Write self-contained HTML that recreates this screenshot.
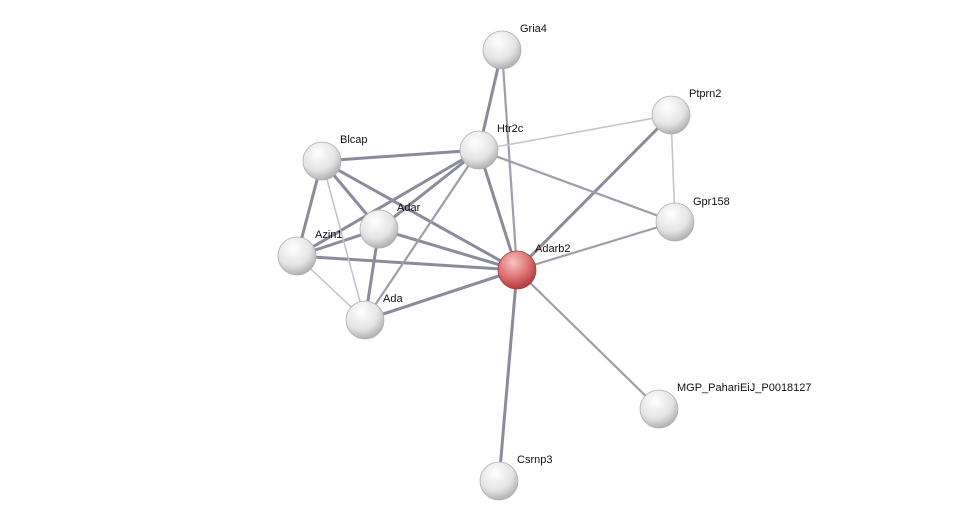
<!DOCTYPE html>
<html><head><meta charset="utf-8"><style>html,body{margin:0;padding:0;background:#fff}svg{display:block}</style></head>
<body>
<svg width="976" height="526" viewBox="0 0 976 526" xmlns="http://www.w3.org/2000/svg">
<defs>
<radialGradient id="g" cx="0.4" cy="0.3" r="0.75">
<stop offset="0" stop-color="#ffffff"/><stop offset="0.6" stop-color="#e4e4e4"/><stop offset="1" stop-color="#a8a8a8"/></radialGradient>
<radialGradient id="r" cx="0.4" cy="0.3" r="0.75">
<stop offset="0" stop-color="#f7c4c4"/><stop offset="0.55" stop-color="#de7070"/><stop offset="1" stop-color="#a83535"/></radialGradient>
</defs>
<g stroke-linecap="round">
<g stroke="#8a8c9c" stroke-width="3">
<line x1="502" y1="50" x2="479" y2="150"/>
<line x1="671" y1="115" x2="517" y2="270"/>
<line x1="479" y1="150" x2="322" y2="161"/>
<line x1="479" y1="150" x2="379" y2="229"/>
<line x1="479" y1="150" x2="297" y2="256"/>
<line x1="479" y1="150" x2="517" y2="270"/>
<line x1="322" y1="161" x2="297" y2="256"/>
<line x1="322" y1="161" x2="379" y2="229"/>
<line x1="322" y1="161" x2="517" y2="270"/>
<line x1="379" y1="229" x2="297" y2="256"/>
<line x1="379" y1="229" x2="365" y2="320"/>
<line x1="379" y1="229" x2="517" y2="270"/>
<line x1="297" y1="256" x2="517" y2="270"/>
<line x1="365" y1="320" x2="517" y2="270"/>
<line x1="517" y1="270" x2="499" y2="481"/>
</g>
<g stroke="#9c9eac" stroke-width="2.2">
<line x1="502" y1="50" x2="517" y2="270"/>
<line x1="479" y1="150" x2="365" y2="320"/>
<line x1="479" y1="150" x2="675" y2="222"/>
<line x1="517" y1="270" x2="675" y2="222"/>
<line x1="517" y1="270" x2="659" y2="409"/>
</g>
<g stroke="#c0c2cc" stroke-width="1.5">
<line x1="671" y1="115" x2="479" y2="150"/>
<line x1="671" y1="115" x2="675" y2="222"/>
<line x1="322" y1="161" x2="365" y2="320"/>
<line x1="297" y1="256" x2="365" y2="320"/>
</g>
</g>
<g fill="url(#g)" stroke="#b0b0b0" stroke-width="0.8">
<circle cx="502" cy="50" r="19"/>
<circle cx="671" cy="115" r="19"/>
<circle cx="479" cy="150" r="19"/>
<circle cx="322" cy="161" r="19"/>
<circle cx="675" cy="222" r="19"/>
<circle cx="379" cy="229" r="19"/>
<circle cx="297" cy="256" r="19"/>
<circle cx="365" cy="320" r="19"/>
<circle cx="659" cy="409" r="19"/>
<circle cx="499" cy="481" r="19"/>
<circle cx="517" cy="270" r="19" fill="url(#r)" stroke="#a04040"/>
</g>
<g font-family="Liberation Sans, sans-serif" font-size="11" fill="#111">
<text x="520" y="32">Gria4</text>
<text x="689" y="97">Ptprn2</text>
<text x="497" y="132">Htr2c</text>
<text x="340" y="143">Blcap</text>
<text x="693" y="205">Gpr158</text>
<text x="397" y="211">Adar</text>
<text x="315" y="238">Azin1</text>
<text x="535" y="252">Adarb2</text>
<text x="383" y="302">Ada</text>
<text x="677" y="391">MGP_PahariEiJ_P0018127</text>
<text x="517" y="463">Csrnp3</text>
</g>
</svg>
</body></html>
